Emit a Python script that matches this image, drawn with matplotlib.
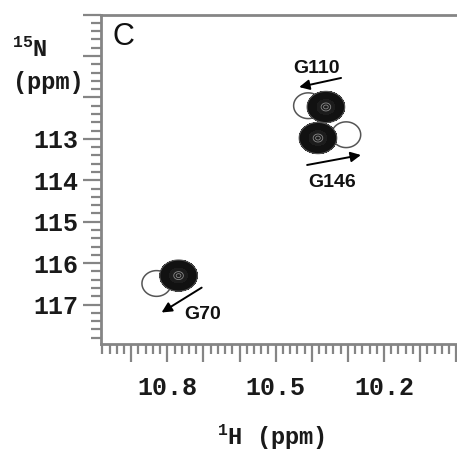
import numpy as np
import matplotlib
matplotlib.use('Agg')
import matplotlib.pyplot as plt
from matplotlib.ticker import MultipleLocator, FuncFormatter

# peak list (1H ppm, 15N ppm)
residues = ['G70', 'G110', 'G146']
h_bound = [10.769, 10.361, 10.383]
n_bound = [116.30, 112.23, 112.98]
h_free = [10.830, 10.410, 10.305]
n_free = [116.49, 112.20, 112.90]

# where the residue names and the shift arrows sit
label_h = [10.702, 10.388, 10.344]
label_n = [117.24, 111.29, 114.06]
arrow_from_h = [10.705, 10.319, 10.413]
arrow_from_n = [116.59, 111.53, 113.63]
arrow_to_h = [10.816, 10.435, 10.264]
arrow_to_n = [117.19, 111.75, 113.39]

x_labels = [10.8, 10.5, 10.2]
y_labels = [113, 114, 115, 116, 117]

plt.rcParams['mathtext.fontset'] = 'custom'
plt.rcParams['mathtext.default'] = 'regular'

mono = 'Liberation Mono'
grey = '#858585'

fig = plt.figure(figsize=(4.57, 4.55), dpi=100)
ax = fig.add_axes([0.22, 0.244, 0.78, 0.724])

x = np.linspace(9.98, 11.0, 700)
y = np.linspace(109.8, 118.1, 700)
X, Y = np.meshgrid(x, y)


def peak_map(hs, ns, sx, sy):
    z = np.zeros_like(X)
    for h, n in zip(hs, ns):
        z = np.maximum(z, np.exp(-((X - h) ** 2 / (2 * sx ** 2) + (Y - n) ** 2 / (2 * sy ** 2))))
    return z


z_free = peak_map(h_free, n_free, 0.026, 0.20)
z_bound = peak_map(h_bound, n_bound, 0.029, 0.21)

ax.contour(X, Y, z_free, levels=[0.3], colors='#555555', linewidths=1.1, zorder=2)
ax.contourf(X, Y, z_bound, levels=[0.2, 0.7, 2], colors=['#111111', '#1c1c1c'], zorder=3)
ax.contour(X, Y, z_bound, levels=[0.2], colors='#555555', linewidths=0.8, zorder=3)
ax.contour(X, Y, z_bound, levels=[0.9, 0.975], colors='#8a8a8a', linewidths=0.6, zorder=4)

for i, name in enumerate(residues):
    ax.annotate('', xy=(arrow_to_h[i], arrow_to_n[i]), xytext=(arrow_from_h[i], arrow_from_n[i]),
                arrowprops=dict(arrowstyle='-|>', color='black', lw=1.4, mutation_scale=15,
                                shrinkA=0, shrinkB=0), zorder=5)
    ax.text(label_h[i], label_n[i], name, ha='center', va='center', fontsize=14,
            fontweight='bold', family='Liberation Sans', color='#111111', zorder=5)

ax.set_xlim(10.985, 9.998)
ax.set_ylim(117.95, 110.0)

ax.xaxis.set_major_locator(MultipleLocator(0.1))
ax.xaxis.set_minor_locator(MultipleLocator(0.02))
ax.yaxis.set_major_locator(MultipleLocator(1))
ax.yaxis.set_minor_locator(MultipleLocator(0.2))


def fmt_x(v, pos):
    return f'{v:.1f}' if any(abs(v - t) < 1e-6 for t in x_labels) else ''


def fmt_y(v, pos):
    return f'{v:.0f}' if any(abs(v - t) < 1e-6 for t in y_labels) else ''


ax.xaxis.set_major_formatter(FuncFormatter(fmt_x))
ax.yaxis.set_major_formatter(FuncFormatter(fmt_y))

ax.tick_params(which='major', direction='out', length=13, width=1.6, color=grey,
               labelsize=18, labelcolor='#1a1a1a')
ax.tick_params(which='minor', direction='out', length=7, width=1.6, color=grey)
ax.tick_params(axis='x', which='major', pad=10)
ax.tick_params(axis='y', which='major', pad=3)
for lab in ax.get_xticklabels() + ax.get_yticklabels():
    lab.set_family(mono)
    lab.set_fontweight('bold')

for side in ['left', 'bottom', 'top']:
    ax.spines[side].set_color(grey)
    ax.spines[side].set_linewidth(2)
ax.spines['right'].set_visible(False)

fig.text(123 / 457, 1 - 37 / 455, 'C', fontsize=22, family='Liberation Sans',
         ha='center', va='center', color='#111111')
fig.text(12 / 457, 1 - 50 / 455, r'$^{15}$N', fontsize=17, family=mono, fontweight='bold',
         ha='left', va='center', color='#1a1a1a')
fig.text(13 / 457, 1 - 83 / 455, '(ppm)', fontsize=17, family=mono, fontweight='bold',
         ha='left', va='center', color='#1a1a1a')
fig.text(271 / 457, 1 - 437 / 455, r'$^{1}$H (ppm)', fontsize=17, family=mono, fontweight='bold',
         ha='center', va='center', color='#1a1a1a')

fig.savefig('out.png', dpi=100)
